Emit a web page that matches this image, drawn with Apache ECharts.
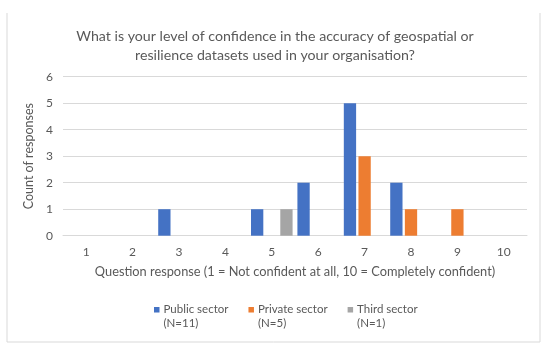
<!DOCTYPE html>
<html>
<head>
<meta charset="utf-8">
<script src="https://cdn.jsdelivr.net/npm/echarts@6/dist/echarts.min.js"></script>
<style>html,body{margin:0;padding:0;background:#fff}#c{width:550px;height:352px}</style>
</head>
<body>
<div id="c"></div>
<script>
const categories = ['1','2','3','4','5','6','7','8','9','10'];
const seriesNames = ['Public sector\n(N=11)', 'Private sector\n(N=5)', 'Third sector\n(N=1)'];
const publicSector = [0,0,1,0,1,2,5,2,0,0];
const privateSector = [0,0,0,0,0,0,3,1,1,0];
const thirdSector = [0,0,0,0,1,0,0,0,0,0];
const colors = ['#4472C4', '#ED7D31', '#A5A5A5'];
const titleText = 'What is your level of confidence in the accuracy of geospatial or\nresilience datasets used in your organisation?';
const xName = 'Question response (1 = Not confident at all, 10 = Completely confident)';
const yName = 'Count of responses';

const FONT = 'Lato';
const TXT = '#595959';
const chart = echarts.init(document.getElementById('c'), null, {renderer: 'canvas'});
const mk = (name, data, i) => ({
  name: name, type: 'bar', data: data, barWidth: 12.3, barGap: '19%',
  itemStyle: {color: colors[i]}, animation: false
});
chart.setOption({
  animation: false,
  textStyle: {fontFamily: FONT, color: TXT},
  title: {
    text: titleText, left: 'center', top: 22,
    textStyle: {fontFamily: FONT, fontSize: 14.2, fontWeight: 'normal', color: TXT, lineHeight: 19}
  },
  grid: {left: 63, right: 23, top: 76.7, bottom: 116.3, containLabel: false},
  xAxis: {
    type: 'category', data: categories,
    name: xName, nameLocation: 'middle', nameGap: 30,
    nameTextStyle: {fontFamily: FONT, fontSize: 12.8, color: TXT},
    axisLine: {lineStyle: {color: '#d9d9d9'}},
    axisTick: {show: false},
    axisLabel: {fontFamily: FONT, fontSize: 12, color: TXT, margin: 10}
  },
  yAxis: {
    type: 'value', min: 0, max: 6, interval: 1,
    name: yName, nameLocation: 'middle', nameGap: 24, nameRotate: 90,
    nameTextStyle: {fontFamily: FONT, fontSize: 12.5, color: TXT},
    axisLine: {show: false}, axisTick: {show: false},
    axisLabel: {fontFamily: FONT, fontSize: 12, color: TXT, margin: 10},
    splitLine: {lineStyle: {color: '#d9d9d9'}}
  },
  legend: {
    data: seriesNames, left: 149, top: 298, itemGap: 20,
    itemWidth: 5.5, itemHeight: 19,
    icon: 'path://M0,0h1v1h-1z M0,3.45L0,3.45',
    textStyle: {fontFamily: FONT, fontSize: 11.5, color: TXT, lineHeight: 13.5, padding: [0,0,0,-1]}
  },
  graphic: [
    {type: 'line', shape: {x1: 7, y1: 13, x2: 7, y2: 342}, style: {stroke: '#d9d9d9', lineWidth: 1}},
    {type: 'line', shape: {x1: 7, y1: 342, x2: 540, y2: 342}, style: {stroke: '#d9d9d9', lineWidth: 1}},
    {type: 'line', shape: {x1: 540, y1: 13, x2: 540, y2: 342}, style: {stroke: '#d9d9d9', lineWidth: 1}}
  ],
  series: [mk(seriesNames[0], publicSector, 0), mk(seriesNames[1], privateSector, 1), mk(seriesNames[2], thirdSector, 2)]
});
</script>
</body>
</html>
